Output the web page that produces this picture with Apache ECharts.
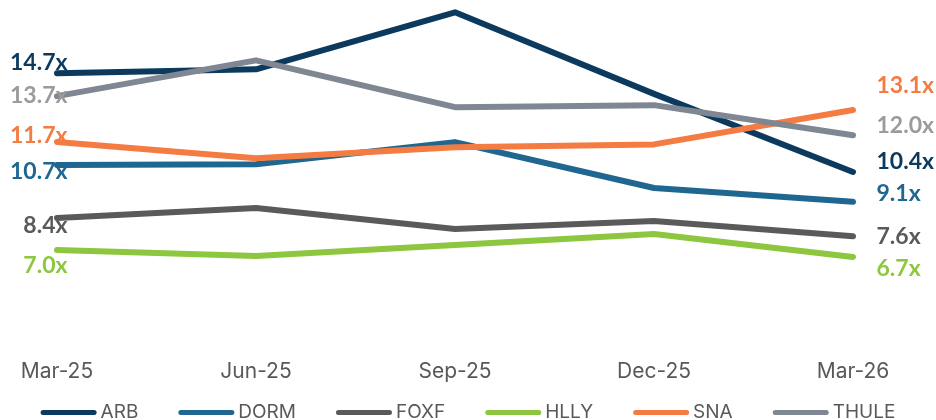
<!DOCTYPE html>
<html>
<head>
<meta charset="utf-8">
<script src="https://cdn.jsdelivr.net/npm/echarts@6/dist/echarts.min.js"></script>
<style>html,body{margin:0;padding:0;background:#fff}#c{width:936px;height:420px}</style>
</head>
<body>
<div id="c"></div>
<script>
var categories = ['Mar-25', 'Jun-25', 'Sep-25', 'Dec-25', 'Mar-26'];
var seriesNames = ['ARB', 'DORM', 'FOXF', 'HLLY', 'SNA', 'THULE'];
var ARB = [14.7, 14.87, 17.35, 13.8, 10.4];
var DORM = [10.7, 10.74, 11.7, 9.7, 9.1];
var FOXF = [8.4, 8.83, 7.92, 8.27, 7.6];
var HLLY = [7.0, 6.74, 7.22, 7.7, 6.7];
var SNA = [11.7, 11.0, 11.48, 11.6, 13.1];
var THULE = [13.7, 15.26, 13.22, 13.31, 12.0];
var values = [ARB, DORM, FOXF, HLLY, SNA, THULE];

var lineColors = ['#0B3A5E', '#1F6690', '#5A5A5A', '#8DC63F', '#F47B42', '#7F8792'];
var labelColors = ['#0B3A5E', '#1F6690', '#5A5A5A', '#8DC63F', '#F47B42', '#9B9B9B'];
var leftDy = [-11, 6, 8, 16, -7, -1];
var rightDy = [-10, -8, 0, 12, -24, -10];

var LABEL_FONT = 'Lato';
var AXIS_FONT = 'Inter';
function fmt(v) { return v.toFixed(1) + 'x'; }

var series = seriesNames.map(function (name, i) {
  var vals = values[i];
  var data = vals.map(function (v, j) {
    var item = { value: v };
    if (j === 0) {
      item.label = { show: true, position: 'left', distance: -11, offset: [0, leftDy[i]] };
    } else if (j === vals.length - 1) {
      item.label = { show: true, position: 'right', distance: 23, offset: [0, rightDy[i]] };
    }
    return item;
  });
  return {
    name: name,
    type: 'line',
    data: data,
    symbol: 'circle',
    symbolSize: 1,
    showSymbol: true,
    itemStyle: { color: lineColors[i] },
    lineStyle: { color: lineColors[i], width: 6, cap: 'round', join: 'round' },
    label: {
      show: false,
      formatter: function (p) { return fmt(p.value); },
      color: labelColors[i],
      fontFamily: LABEL_FONT,
      fontWeight: 'bold',
      fontSize: 23
    },
    emphasis: { disabled: true },
    animation: false,
    z: 2
  };
});

var chart = echarts.init(document.getElementById('c'), null, { renderer: 'canvas' });
chart.setOption({
  backgroundColor: '#ffffff',
  animation: false,
  grid: { left: 57, right: 83, top: 2, bottom: 124, containLabel: false },
  xAxis: {
    type: 'category',
    data: categories,
    boundaryGap: false,
    axisLine: { show: false },
    axisTick: { show: false },
    splitLine: { show: false },
    axisLabel: { margin: 65, color: '#595959', fontFamily: AXIS_FONT, fontSize: 21 }
  },
  yAxis: {
    type: 'value',
    min: 5,
    max: 17.8,
    show: false
  },
  legend: {
    top: 398,
    left: 'center',
    itemWidth: 56,
    itemHeight: 5,
    itemGap: 40,
    icon: 'path://M2.5,0 H53.5 A2.5,2.5 0 0 1 53.5,5 H2.5 A2.5,2.5 0 0 1 2.5,0 Z',
    textStyle: { color: '#595959', fontFamily: AXIS_FONT, fontSize: 19, padding: [0, 0, 0, -1] },
    data: seriesNames
  },
  series: series
});
</script>
</body>
</html>
